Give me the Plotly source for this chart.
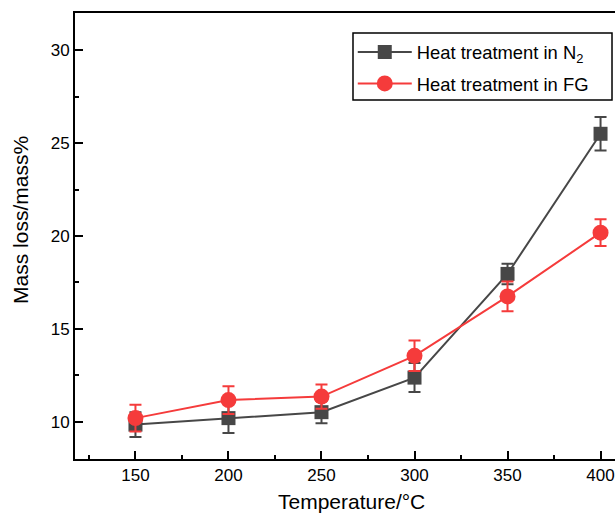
import plotly.graph_objects as go

temps = [150, 200, 250, 300, 350, 400]
n2_loss = [9.85, 10.2, 10.52, 12.38, 17.96, 25.5]
n2_err = [0.67, 0.8, 0.6, 0.78, 0.55, 0.9]
fg_loss = [10.2, 11.17, 11.36, 13.55, 16.75, 20.18]
fg_err = [0.72, 0.75, 0.65, 0.82, 0.8, 0.72]
x_ticks = [150, 200, 250, 300, 350, 400]
y_ticks = [10, 15, 20, 25, 30]

GRAY = "#474747"
RED = "#f53b3b"
FONT = "Liberation Sans, Arial, Helvetica, sans-serif"

fig = go.Figure()
fig.add_trace(go.Scatter(
    x=temps, y=n2_loss, mode="lines+markers", name="Heat treatment in N<sub>2</sub>",
    legendgroup="n2",
    line=dict(color=GRAY, width=2),
    marker=dict(symbol="square", size=14, color=GRAY),
    error_y=dict(type="data", array=n2_err, color=GRAY, thickness=2, width=6),
))
fig.add_trace(go.Scatter(
    x=temps, y=fg_loss, mode="lines+markers", name="Heat treatment in FG",
    legendgroup="fg",
    line=dict(color=RED, width=2),
    marker=dict(symbol="circle", size=16, color=RED),
    error_y=dict(type="data", array=fg_err, color=RED, thickness=2, width=6),
))

fig.update_layout(
    width=671, height=515,
    margin=dict(l=75, r=10, t=13, b=56),
    paper_bgcolor="white", plot_bgcolor="white",
    font=dict(family=FONT, size=17, color="black"),
    showlegend=True,
    legend=dict(
        x=0.474, y=0.954, xanchor="left", yanchor="top",
        borderwidth=0, bgcolor="rgba(0,0,0,0)",
        font=dict(size=18.4, family=FONT), itemwidth=54,
        traceorder="grouped", tracegroupgap=4.5,
    ),
    shapes=[
        dict(type="rect", xref="paper", yref="paper",
             x0=0.4744, x1=0.9164, y0=0.8049, y1=0.9552,
             line=dict(color="black", width=1.5), fillcolor="white", layer="above"),
    ],
    xaxis=dict(
        range=[117.5, 432.5], tickvals=x_ticks, showgrid=False, zeroline=False,
        showline=True, linecolor="black", linewidth=2, mirror=True,
        ticks="inside", ticklen=8, tickwidth=2, tickcolor="black",
        minor=dict(dtick=25, tick0=0, ticks="inside", ticklen=4, tickwidth=2, tickcolor="black"),
        tickfont=dict(size=17), automargin=False,
    ),
    yaxis=dict(
        range=[8, 32], tickvals=y_ticks, showgrid=False, zeroline=False,
        showline=True, linecolor="black", linewidth=2,
        ticks="inside", ticklen=8, tickwidth=2, tickcolor="black",
        minor=dict(dtick=2.5, tick0=0, ticks="inside", ticklen=4, tickwidth=2, tickcolor="black"),
        tickfont=dict(size=17), automargin=False,
    ),
    annotations=[
        dict(text="Temperature/°C", xref="paper", yref="paper",
             x=0.4718, y=-0.0964, xanchor="center", yanchor="middle",
             showarrow=False, font=dict(size=21, family=FONT)),
        dict(text="Mass loss/mass%", xref="paper", yref="paper",
             x=-0.0922, y=0.5359, xanchor="center", yanchor="middle", textangle=-90,
             showarrow=False, font=dict(size=21, family=FONT)),
    ],
)

fig.write_html("out.html", config={"responsive": False, "displayModeBar": False},
               post_script="document.body.style.overflow='hidden';document.body.style.margin='0';")
